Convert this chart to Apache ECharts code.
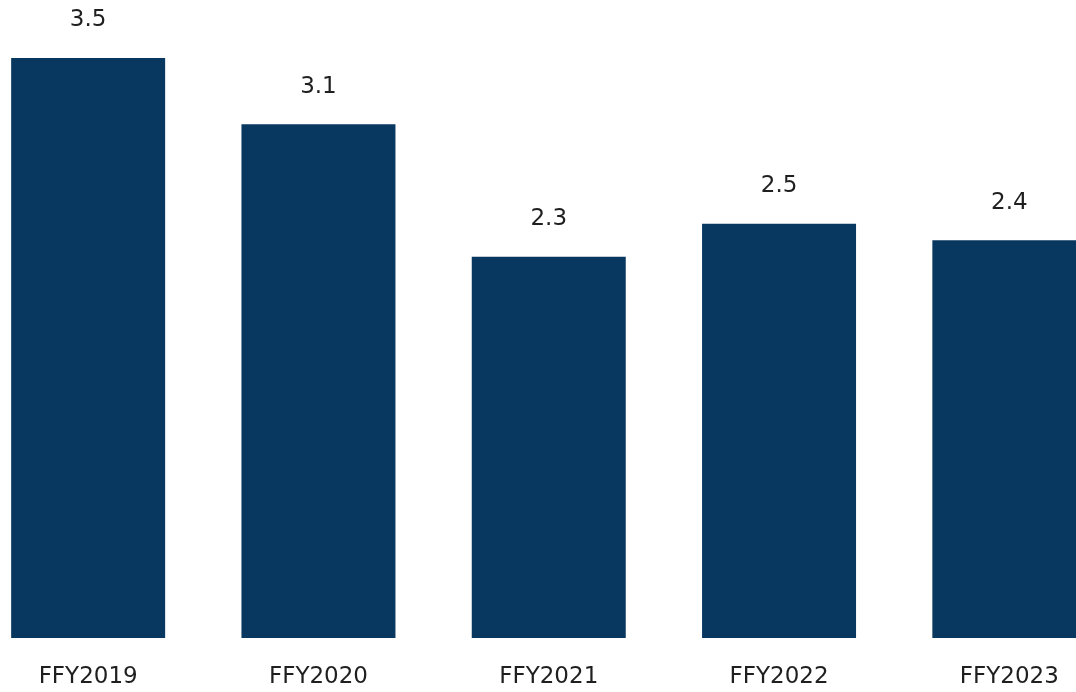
<!DOCTYPE html>
<html>
<head>
<meta charset="utf-8">
<style>
  html, body { margin: 0; padding: 0; background: #ffffff; }
  #chart { width: 1076px; height: 692px; }
</style>
<script src="https://cdn.jsdelivr.net/npm/echarts@6/dist/echarts.min.js"></script>
</head>
<body>
<div id="chart"></div>
<script>
// Fiscal years and their values
const categories = ['FFY2019', 'FFY2020', 'FFY2021', 'FFY2022', 'FFY2023'];
const values = [3.5, 3.1, 2.3, 2.5, 2.4];

const FONT = '"DejaVu Sans", "Open Sans", sans-serif';
const chart = echarts.init(document.getElementById('chart'), null, { renderer: 'canvas' });

chart.setOption({
  animation: false,
  backgroundColor: '#ffffff',
  grid: {
    left: -27, width: 1151.5, top: 58, bottom: 54,
    containLabel: false,
    outerBoundsMode: 'none'
  },
  xAxis: {
    type: 'category',
    data: categories,
    axisLine: { show: false },
    axisTick: { show: false },
    axisLabel: {
      color: '#1f1f1f',
      fontFamily: FONT,
      fontSize: 23,
      margin: 28
    }
  },
  yAxis: {
    type: 'value',
    min: 0,
    max: 3.5,
    show: false,
    splitLine: { show: false }
  },
  series: [{
    type: 'bar',
    data: values,
    barWidth: 154,
    itemStyle: { color: '#083860' },
    label: {
      show: true,
      position: 'top',
      distance: 26,
      color: '#1f1f1f',
      fontFamily: FONT,
      fontSize: 23,
      formatter: p => p.value.toFixed(1)
    }
  }]
});
</script>
</body>
</html>
